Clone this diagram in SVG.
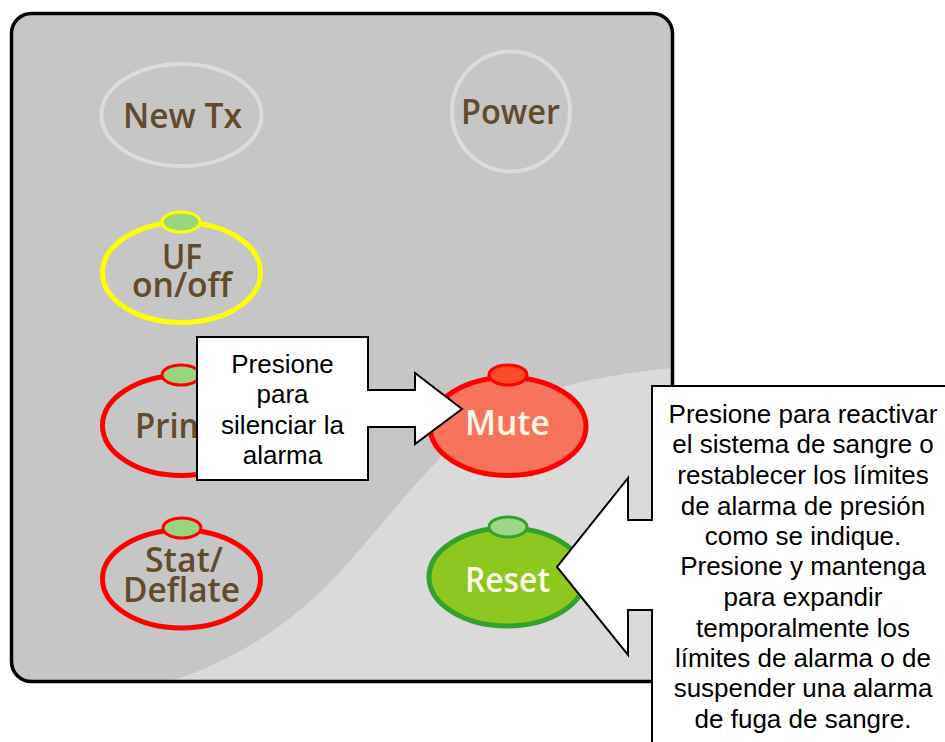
<svg xmlns="http://www.w3.org/2000/svg" width="945" height="742" viewBox="0 0 945 742">
<style>
.lbl{font-family:"Open Sans","Noto Sans","DejaVu Sans",sans-serif;font-weight:600;font-size:35px;fill:#634a2b}
.lbl2{font-family:"Open Sans","Noto Sans","DejaVu Sans",sans-serif;font-weight:600;font-size:35px;fill:#fdf8e8}
.ring{fill:none}
.gray{stroke:#dcdcdc;stroke-width:4}
.yel{stroke:#ffff00;stroke-width:5}
.red{stroke:#ff0000;stroke-width:5}
.grn{stroke:#35a12d;stroke-width:5}
.ledg{fill:#99d47e;stroke-width:3}
.call{fill:#ffffff;stroke:#000000;stroke-width:2}
.ct{font-family:"Liberation Sans",Arial,sans-serif;font-size:26px;fill:#000000;text-anchor:middle}
</style>
<defs>
<clipPath id="pc"><rect x="11.5" y="13.5" width="661" height="668" rx="20"/></clipPath>
</defs>
<g id="panel">
<rect x="11.5" y="13.5" width="661" height="668" rx="20" fill="#c6c6c6"/>
<path clip-path="url(#pc)" d="M 160 684 C 220 668, 290 630, 348 563 C 395 510, 440 450, 485 418 C 530 390, 600 375, 674 368 L 674 684 Z" fill="#dadada"/>
<rect x="11.5" y="13.5" width="661" height="668" rx="20" fill="none" stroke="#000" stroke-width="3.5"/>
</g>
<g id="newtx">
<ellipse class="ring gray" cx="181.5" cy="115" rx="80" ry="51"/>
<text class="lbl" x="123" y="128" textLength="119" lengthAdjust="spacingAndGlyphs">New Tx</text>
</g>
<g id="power">
<ellipse class="ring gray" cx="511" cy="111.5" rx="59" ry="60"/>
<text class="lbl" x="461" y="124" textLength="99" lengthAdjust="spacingAndGlyphs">Power</text>
</g>
<g id="uf">
<ellipse class="ring yel" cx="181.5" cy="272.5" rx="79" ry="50"/>
<ellipse class="ledg" stroke="#ffff00" cx="181" cy="222" rx="19" ry="10"/>
<text class="lbl" x="162" y="269" textLength="40" lengthAdjust="spacingAndGlyphs">UF</text>
<text class="lbl" x="132" y="297" textLength="100" lengthAdjust="spacingAndGlyphs">on/off</text>
</g>
<g id="prime">
<ellipse class="ring red" cx="181.5" cy="425.5" rx="79" ry="50"/>
<ellipse class="ledg" stroke="#ff0000" cx="181" cy="375" rx="19" ry="10"/>
<text class="lbl" x="135" y="438" textLength="94" lengthAdjust="spacingAndGlyphs">Prime</text>
</g>
<g id="stat">
<ellipse class="ring red" cx="181.5" cy="579" rx="79" ry="49"/>
<ellipse class="ledg" stroke="#ff0000" cx="182" cy="528" rx="19" ry="10"/>
<text class="lbl" x="145" y="572" textLength="78" lengthAdjust="spacingAndGlyphs">Stat/</text>
<text class="lbl" x="123" y="602" textLength="117" lengthAdjust="spacingAndGlyphs">Deflate</text>
</g>
<g id="mute">
<ellipse class="red" fill="#f7735c" cx="508" cy="426.5" rx="78" ry="49"/>
<ellipse fill="#ff4a2a" stroke="#ff0000" stroke-width="3" cx="508" cy="375" rx="19" ry="10"/>
<text class="lbl2" x="465" y="435" textLength="85" lengthAdjust="spacingAndGlyphs">Mute</text>
</g>
<g id="reset">
<ellipse class="grn" fill="#8dc71f" cx="507" cy="577" rx="78" ry="49"/>
<ellipse fill="#9ed587" stroke="#35a12d" stroke-width="3" cx="508" cy="527" rx="19" ry="10"/>
<text class="lbl2" x="465" y="592" textLength="85" lengthAdjust="spacingAndGlyphs">Reset</text>
</g>
<g id="callouts">
<g id="callout-mute">
<path class="call" d="M197 337 H368 V390 H415 V373 L462 409 L415 444 V427 H368 V480 H197 Z"/>
<text class="ct"><tspan x="282.5" y="373">Presione</tspan><tspan x="282.5" y="403">para</tspan><tspan x="282.5" y="434">silenciar la</tspan><tspan x="282.5" y="464">alarma</tspan></text>
</g>
<g id="callout-reset">
<path class="call" d="M652 386 H960 V760 H652 V610 H628 V655 L557 567 L628 478 V520 H652 Z"/>
<text class="ct"><tspan x="803" y="423">Presione para reactivar</tspan><tspan x="803" y="453">el sistema de sangre o</tspan><tspan x="803" y="484">restablecer los límites</tspan><tspan x="803" y="515">de alarma de presión</tspan><tspan x="803" y="545">como se indique.</tspan><tspan x="803" y="575">Presione y mantenga</tspan><tspan x="803" y="606">para expandir</tspan><tspan x="803" y="637">temporalmente los</tspan><tspan x="803" y="667">límites de alarma o de</tspan><tspan x="803" y="697">suspender una alarma</tspan><tspan x="803" y="728">de fuga de sangre.</tspan></text>
</g>
</g>
</svg>
